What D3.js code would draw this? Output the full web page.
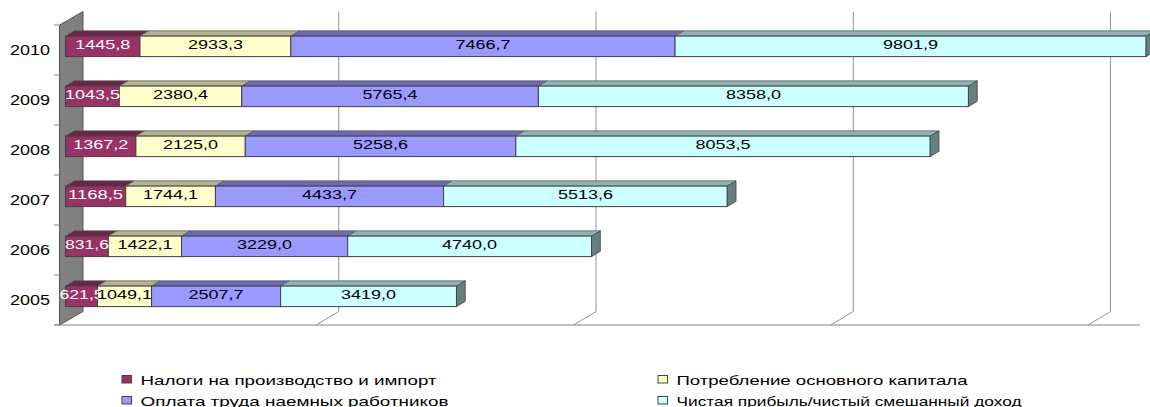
<!DOCTYPE html>
<html>
<head>
<meta charset="utf-8">
<title>Chart</title>
<script src="https://d3js.org/d3.v7.min.js"></script>
<style>
  body { margin: 0; background: #fff; }
  text { font-family: "Liberation Sans", Arial, sans-serif; }
</style>
</head>
<body>
<script>
var years = ["2010", "2009", "2008", "2007", "2006", "2005"];
var taxes = [1445.8, 1043.5, 1367.2, 1168.5, 831.6, 621.5];
var capital = [2933.3, 2380.4, 2125.0, 1744.1, 1422.1, 1049.1];
var wages = [7466.7, 5765.4, 5258.6, 4433.7, 3229.0, 2507.7];
var profit = [9801.9, 8358.0, 8053.5, 5513.6, 4740.0, 3419.0];
var gridTicks = [5000, 10000, 15000, 20000];
var seriesNames = ["Налоги на производство и импорт", "Потребление основного капитала",
                   "Оплата труда наемных работников", "Чистая прибыль/чистый смешанный доход"];
var seriesValues = [taxes, capital, wages, profit];
var fronts = ["#993366", "#ffffcc", "#9999ff", "#ccffff"];
var tops = ["#6b2447", "#b3b38f", "#6b6bb3", "#8fb3b3"];
var legendWidths = [296, 291, 308, 345]; // the source font is stretched wide

var width = 1150, height = 407;

var svg = d3.select("body").append("svg")
    .attr("width", width)
    .attr("height", height)
    .style("display", "block");

var x = d3.scaleLinear().domain([0, 21000]).range([59.5, 1140]).clamp(true);
var y = d3.scaleBand().domain(years).range([25, 325]).paddingInner(0.59).paddingOuter(0.295);

// oblique depth of the 3d box, d goes from 0 (front) to 1 (back wall)
var depthX = 22.5, depthY = 13.5;
function px(v, d) { return x(v) + depthX * d; }
function py(v, d) { return v - depthY * d; }
function poly(points) {
  return "M" + points.map(function(p) { return p.join(","); }).join("L") + "Z";
}

var floorY = y.range()[1], topY = y.range()[0];
var grey = "#868686";

// back wall on the left
svg.append("path")
    .attr("d", poly([[px(0, 0), topY], [px(0, 1) + 1, py(topY, 1)], [px(0, 1) + 1, py(floorY, 1)], [px(0, 0), floorY]]))
    .attr("fill", "#808080")
    .attr("stroke", "#555");

// floor line
svg.append("line")
    .attr("x1", 54).attr("x2", 1140)
    .attr("y1", floorY).attr("y2", floorY)
    .attr("stroke", grey).attr("stroke-width", 1.2);

// gridlines: up the back wall, then diagonal across the floor
svg.append("g").selectAll("path")
    .data(gridTicks)
    .join("path")
    .attr("d", function(d) {
      return "M" + (px(d, 1) - 0.5) + "," + py(topY, 1) + "L" + (px(d, 1) - 0.5) + "," + py(floorY, 1) + "L" + (px(d, 0) - 0.5) + "," + floorY;
    })
    .attr("fill", "none")
    .attr("stroke", grey)
    .attr("stroke-width", 0.9);

// category ticks on the front edge
svg.append("g").selectAll("line")
    .data(d3.range(years.length + 1))
    .join("line")
    .attr("x1", 54).attr("x2", px(0, 0))
    .attr("y1", function(i) { return topY + i * y.step(); })
    .attr("y2", function(i) { return topY + i * y.step(); })
    .attr("stroke", grey);

// category labels
var yAxis = d3.axisLeft(y).tickSize(0).tickPadding(0);
svg.append("g")
    .attr("transform", "translate(50,0)")
    .call(yAxis)
    .call(function(g) { g.select(".domain").remove(); })
    .selectAll("text")
    .attr("fill", "#000")
    .attr("textLength", 40)
    .attr("lengthAdjust", "spacingAndGlyphs")
    .style("font-size", "15px")
    .style("font-family", "'Liberation Sans', Arial, sans-serif");

// bars, one stack per year
var barFront = 0.27, barBack = 0.66;
var fmt = function(v) { return v.toFixed(1).replace(".", ","); };

years.forEach(function(year, i) {
  var g = svg.append("g");
  var y0 = y(year) , y1 = y0 + y.bandwidth();
  var sum = 0;
  var stack = seriesValues.map(function(values, s) {
    var seg = { s: s, v: values[i], from: sum, to: sum + values[i] };
    sum = seg.to;
    return seg;
  });

  stack.forEach(function(seg) {
    var a = seg.from, b = seg.to;
    // top face
    g.append("path")
      .attr("d", poly([
        [px(a, barFront), py(y0, barFront)],
        [px(a, barBack), py(y0, barBack)],
        [px(b, barBack), py(y0, barBack)],
        [px(b, barFront), py(y0, barFront)]]))
      .attr("fill", tops[seg.s])
      .attr("stroke", "#555")
      .attr("stroke-width", 0.7);
    // front face
    g.append("rect")
      .attr("x", px(a, barFront))
      .attr("y", py(y0, barFront))
      .attr("width", px(b, barFront) - px(a, barFront))
      .attr("height", y1 - y0)
      .attr("fill", fronts[seg.s])
      .attr("stroke", "#404040")
      .attr("stroke-width", 1);
  });

  // right end of the stack
  var end = sum;
  g.append("path")
    .attr("d", poly([
      [px(end, barFront), py(y0, barFront)],
      [px(end, barBack), py(y0, barBack)],
      [px(end, barBack), py(y1, barBack)],
      [px(end, barFront), py(y1, barFront)]]))
    .attr("fill", "#668080")
    .attr("stroke", "#404040")
    .attr("stroke-width", 0.8);

  // labels go on last so the bars never hide them
  stack.forEach(function(seg) {
    var label = fmt(seg.v);
    g.append("text")
      .attr("x", (px(seg.from, barFront) + px(seg.to, barFront)) / 2)
      .attr("y", py(y0, barFront) + (y1 - y0) / 2 - 2.5)
      .attr("dy", "0.35em")
      .attr("text-anchor", "middle")
      .attr("fill", seg.s === 0 ? "#fff" : "#000")
      .attr("textLength", label.length === 6 ? 55 : 44)
      .attr("lengthAdjust", "spacingAndGlyphs")
      .style("font-size", "13.5px")
      .text(label);
  });
});

// legend
var legendX = d3.scalePoint().domain([0, 1]).range([122, 658]);
var legendY = d3.scalePoint().domain([0, 1]).range([379.5, 400.5]);
var legend = svg.append("g").selectAll("g")
    .data(seriesNames)
    .join("g")
    .attr("transform", function(name, i) {
      return "translate(" + legendX(i % 2) + "," + legendY(Math.floor(i / 2)) + ")";
    });

legend.append("rect")
    .attr("y", -4)
    .attr("width", 9.5).attr("height", 7.5)
    .attr("fill", function(name, i) { return fronts[i]; })
    .attr("stroke", "#444");

legend.append("text")
    .attr("x", 18.5)
    .attr("y", 5)
    .attr("fill", "#000")
    .attr("textLength", function(name, i) { return legendWidths[i]; })
    .attr("lengthAdjust", "spacingAndGlyphs")
    .style("font-size", "13.5px")
    .text(function(name) { return name; });
</script>
</body>
</html>
